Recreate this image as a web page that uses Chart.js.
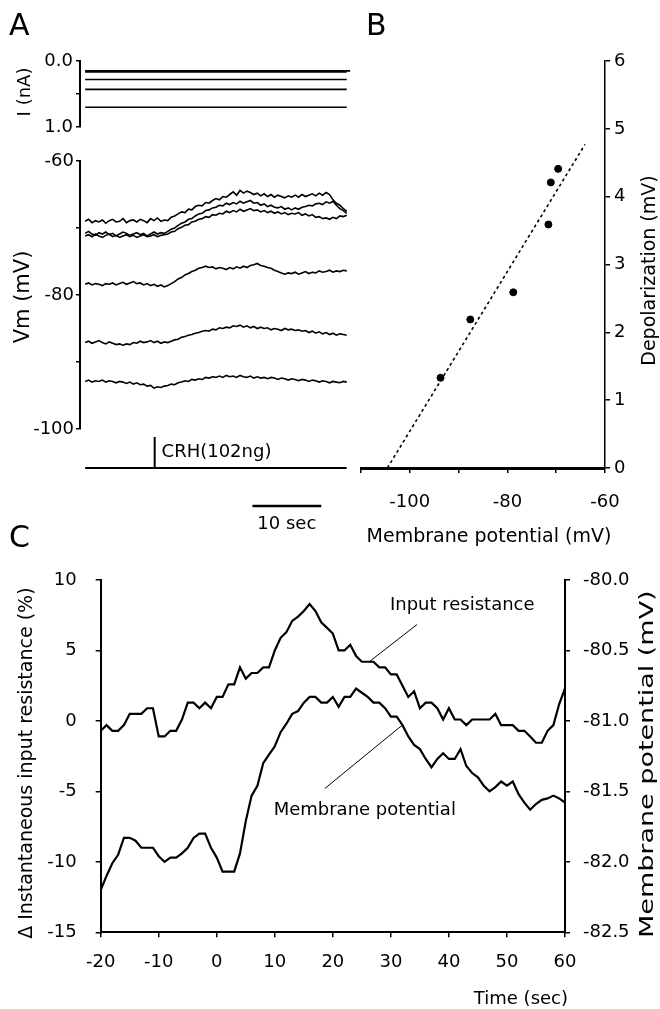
<!DOCTYPE html>
<html>
<head>
<meta charset="utf-8">
<script src="https://cdn.jsdelivr.net/npm/chart.js@4.4.0/dist/chart.umd.min.js"></script>
<style>
html, body { margin: 0; padding: 0; background: #fff; }
#page { position: relative; width: 660px; height: 1009px; overflow: hidden; }
#page canvas { position: absolute; left: 0; top: 0; }
</style>
</head>
<body>
<div id="page">
  <canvas id="curChart" width="660" height="1009"></canvas>
  <canvas id="vmChart" width="660" height="1009"></canvas>
  <canvas id="stimChart" width="660" height="1009"></canvas>
  <canvas id="depolChart" width="660" height="1009"></canvas>
  <canvas id="timeChart" width="660" height="1009"></canvas>
</div>
<script>
// ---- Panel A: holding currents (nA) and Vm traces (mV), one sample every 0.5 s from t = 0 ----
const traceStep = 0.5;
const traceEnd = 38;
const holdCurrents = [0.15, 0.165, 0.28, 0.43, 0.70];

const vmTraceA = [
  -69.0, -68.7, -69.2, -68.9, -69.1, -68.8, -69.3, -68.9, -68.7, -69.1,
  -69.0, -68.6, -69.2, -68.9, -68.8, -69.1, -68.7, -68.9, -69.2, -68.6,
  -68.9, -68.5, -69.0, -68.8, -68.9, -68.4, -68.2, -67.9, -67.6, -67.7,
  -67.2, -67.3, -66.8, -66.6, -66.7, -66.2, -66.3, -65.9, -65.6, -65.8,
  -65.3, -65.4, -65.0, -64.6, -65.1, -64.4, -64.8, -64.5, -64.7, -65.0,
  -64.8, -65.2, -64.9, -65.3, -65.0, -65.4, -65.1, -65.3, -65.5, -65.2,
  -65.4, -65.1, -65.4, -65.0, -65.3, -65.1, -64.9, -65.2, -64.8, -65.1,
  -64.7, -65.0, -65.8, -66.3, -66.6, -67.1, -67.5
];
const vmTraceB = [
  -70.8, -70.5, -70.9, -71.1, -70.7, -70.9, -70.6, -71.0, -70.8, -71.2,
  -70.9, -70.6, -70.8, -71.1, -70.9, -70.7, -71.0, -70.8, -71.2, -70.9,
  -70.6, -70.9, -70.7, -70.8, -70.5, -70.2, -70.0, -69.6, -69.3, -69.1,
  -68.7, -68.6, -68.2, -67.9, -67.8, -67.4, -67.3, -67.0, -66.9, -66.6,
  -66.7, -66.3, -66.5, -66.2, -66.4, -66.0, -66.3, -66.1, -65.9, -66.3,
  -66.2, -66.6, -66.4, -66.8, -66.6, -66.9, -67.0, -66.8, -67.2, -67.0,
  -67.3, -67.0, -67.2, -66.9, -66.8, -66.6, -66.7, -66.4, -66.3, -66.5,
  -66.1, -66.3, -66.0, -66.6, -67.1, -67.4, -67.8
];
const vmTraceC = [
  -71.2, -71.0, -71.3, -70.9, -71.2, -71.4, -71.1, -70.9, -71.3, -71.1,
  -71.4, -71.2, -71.0, -71.3, -71.1, -71.4, -71.2, -71.0, -71.3, -71.2,
  -71.0, -71.3, -71.1, -71.0, -70.9, -70.6, -70.5, -70.1, -69.9, -69.6,
  -69.5, -69.1, -69.0, -68.7, -68.6, -68.3, -68.4, -68.0, -68.1, -67.8,
  -67.9, -67.5, -67.7, -67.4, -67.6, -67.2, -67.5, -67.3, -67.1, -67.4,
  -67.3, -67.6, -67.4, -67.7, -67.5, -67.8, -67.6, -67.9, -67.7, -68.0,
  -67.8, -67.9, -67.7, -68.1, -67.9, -68.2, -68.0, -68.4, -68.3, -68.6,
  -68.5, -68.7, -68.4, -68.6, -68.2, -68.3, -68.1
];
const vmTraceD = [
  -78.4, -78.2, -78.5, -78.3, -78.4, -78.6, -78.3, -78.4, -78.2, -78.5,
  -78.3, -78.1, -78.4, -78.2, -78.0, -78.3, -78.2, -78.5, -78.3, -78.6,
  -78.4, -78.7, -78.5, -78.8, -78.6, -78.3, -78.0, -77.6, -77.4, -77.0,
  -76.8, -76.5, -76.3, -76.0, -75.9, -75.7, -75.9, -75.8, -76.1, -75.9,
  -76.0, -76.2, -75.9, -76.1, -75.8, -76.0, -75.7, -75.9, -75.6, -75.5,
  -75.3, -75.6, -75.7, -75.9, -76.0, -76.3, -76.5, -76.7, -76.9, -76.7,
  -76.8, -76.6, -76.9, -76.7, -76.5, -76.8, -76.6, -76.7, -76.4, -76.6,
  -76.5, -76.3, -76.6, -76.4, -76.5, -76.3, -76.4
];
const vmTraceE = [
  -87.1, -86.9, -87.2, -87.0, -86.8, -87.1, -87.3, -87.0, -87.2, -87.4,
  -87.3, -87.5, -87.3, -87.4, -87.1, -87.2, -86.9, -87.1, -87.0, -86.8,
  -87.1, -86.9, -87.2, -87.0, -87.1, -86.9, -86.7, -86.6, -86.3, -86.2,
  -86.0, -85.9, -85.7, -85.6, -85.4, -85.3, -85.4, -85.1, -85.2, -84.9,
  -85.0, -84.8, -84.9, -84.6, -84.7, -84.5, -84.8, -84.6, -84.9, -84.7,
  -85.0, -84.8, -85.0, -84.9, -85.2, -85.0, -85.1, -85.3, -85.0, -85.2,
  -85.1, -85.3, -85.2, -85.4, -85.3, -85.6, -85.4, -85.7, -85.5, -85.8,
  -85.6, -85.9, -85.7, -86.0, -85.8, -85.9, -86.0
];
const vmTraceF = [
  -92.9, -92.7, -93.0, -92.8, -92.9, -92.7, -93.0, -92.8, -92.9, -93.1,
  -92.9, -93.0, -93.2, -93.0, -93.3, -93.1, -93.4, -93.3, -93.6, -93.5,
  -93.9, -93.7, -93.8, -93.6, -93.5, -93.3, -93.4, -93.1, -93.0, -92.8,
  -92.9, -92.6, -92.7, -92.5, -92.6, -92.3, -92.4, -92.2, -92.3, -92.1,
  -92.3, -92.0, -92.2, -92.1, -92.3, -92.0, -92.2, -92.3, -92.1, -92.4,
  -92.2, -92.4, -92.3, -92.5, -92.3, -92.4, -92.6, -92.4, -92.5, -92.7,
  -92.5, -92.6, -92.8, -92.6, -92.7, -92.9, -92.7, -92.8, -93.0, -92.8,
  -92.9, -93.1, -92.9, -93.0, -93.1, -92.9, -93.0
];
const vmTraces = [vmTraceA, vmTraceB, vmTraceC, vmTraceD, vmTraceE, vmTraceF];

// CRH application marker and the 10 s scale bar
const crhTime = [0, 10.1, 10.1, 10.1, 38];
const crhSignal = [0, 0, 7.75, 0, 0];
const scaleBarTime = [24.3, 34.3];
const scaleBarLevel = -9.5;

// ---- Panel B: depolarization vs resting membrane potential ----
const restPotential = [-93.7, -87.6, -78.8, -71.6, -71.1, -69.6];
const depolarization = [1.33, 2.19, 2.59, 3.59, 4.21, 4.41];
const fitPotential = [-104.6, -64.1];
const fitDepolarization = [0, 4.77];

// ---- Panel C: one sample per second from -20 to 60 s ----
const inputResistance = [
  -0.7, -0.3, -0.7, -0.7, -0.3, 0.5, 0.5, 0.5, 0.9, 0.9,
  -1.1, -1.1, -0.7, -0.7, 0.1, 1.3, 1.3, 0.9, 1.3, 0.9,
  1.7, 1.7, 2.6, 2.6, 3.8, 3.0, 3.4, 3.4, 3.8, 3.8,
  5.0, 5.9, 6.3, 7.1, 7.4, 7.8, 8.3, 7.8, 7.0, 6.6,
  6.2, 5.0, 5.0, 5.4, 4.6, 4.2, 4.2, 4.2, 3.8, 3.8,
  3.3, 3.3, 2.5, 1.7, 2.1, 0.9, 1.3, 1.3, 0.9, 0.1,
  0.9, 0.1, 0.1, -0.3, 0.1, 0.1, 0.1, 0.1, 0.5, -0.3,
  -0.3, -0.3, -0.7, -0.7, -1.1, -1.55, -1.55, -0.7, -0.3, 1.2,
  2.3
];
const membranePotential = [
  -82.20, -82.10, -82.01, -81.95, -81.83, -81.83, -81.85, -81.90, -81.90, -81.90,
  -81.96, -82.00, -81.97, -81.97, -81.94, -81.90, -81.83, -81.80, -81.80, -81.90,
  -81.97, -82.07, -82.07, -82.07, -81.94, -81.71, -81.53, -81.46, -81.30, -81.24,
  -81.18, -81.08, -81.02, -80.95, -80.93, -80.87, -80.83, -80.83, -80.87, -80.87,
  -80.83, -80.90, -80.83, -80.83, -80.77, -80.80, -80.83, -80.87, -80.87, -80.91,
  -80.97, -80.97, -81.03, -81.11, -81.17, -81.20, -81.27, -81.33, -81.27, -81.23,
  -81.27, -81.27, -81.20, -81.32, -81.37, -81.40, -81.46, -81.50, -81.47, -81.43,
  -81.46, -81.43, -81.52, -81.58, -81.63, -81.59, -81.56, -81.55, -81.53, -81.55,
  -81.58
];
const timeStart = -20;

const black = '#000';
const fontFamily = '"DejaVu Sans", sans-serif';
Chart.defaults.font.family = fontFamily;
Chart.defaults.font.size = 18;
Chart.defaults.color = black;
Chart.defaults.animation = false;

// simple text drawer (titles, panel letters, annotations)
function makeTextPlugin(id, items) {
  return {
    id: id,
    afterDraw(chart) {
      const ctx = chart.ctx;
      items.forEach(it => {
        const p = it.at(chart);
        ctx.save();
        ctx.translate(p[0], p[1]);
        if (it.rot) ctx.rotate(it.rot);
        if (it.sx) ctx.scale(it.sx, 1);
        ctx.font = (it.size || 18) + 'px ' + fontFamily;
        ctx.fillStyle = black;
        ctx.textAlign = it.align || 'center';
        ctx.textBaseline = 'middle';
        ctx.fillText(it.text, 0, 0);
        ctx.restore();
      });
    }
  };
}

function axisLook(borderWidth, tickLength) {
  return {
    border: { display: true, color: black, width: borderWidth },
    grid: { display: true, drawOnChartArea: false, drawTicks: true, tickLength: tickLength, color: black, lineWidth: 1.5 }
  };
}

const noUi = { legend: { display: false }, tooltip: { enabled: false } };
const up = -Math.PI / 2;
const midY = c => (c.chartArea.top + c.chartArea.bottom) / 2;

// shared time axis of panel A
const aTimeMin = -0.75;
const aTimeMax = 39.2;
const aPad = { left: 0, right: 305 };

// ---- A: current ----
new Chart(document.getElementById('curChart'), {
  type: 'line',
  data: {
    datasets: holdCurrents.map((v, i) => ({
      data: [{ x: 0, y: v }, { x: i === 0 ? traceEnd + 0.5 : traceEnd, y: v }],
      borderColor: black, borderWidth: 1.6, pointRadius: 0
    }))
  },
  options: {
    responsive: false,
    layout: { padding: { top: 61, bottom: 1009 - 127, left: aPad.left, right: aPad.right } },
    plugins: noUi,
    scales: {
      x: { type: 'linear', display: false, min: aTimeMin, max: aTimeMax },
      y: Object.assign(axisLook(2, 4), {
        reverse: true, min: 0, max: 1,
        afterFit: s => { s.width = 80; },
        ticks: { stepSize: 0.5, padding: 3, callback: v => (v === 0.5 ? '' : v.toFixed(1)) }
      })
    }
  },
  plugins: [makeTextPlugin('curText', [
    { text: 'A', size: 30, align: 'left', at: () => [9, 27] },
    { text: 'I (nA)', size: 18, rot: up, at: c => [25, midY(c) - 2] }
  ])]
});

// ---- A: membrane potential traces ----
new Chart(document.getElementById('vmChart'), {
  type: 'line',
  data: {
    datasets: vmTraces.map(tr => ({
      data: tr.map((v, i) => ({ x: i * traceStep, y: v })),
      borderColor: black, borderWidth: 1.6, pointRadius: 0
    }))
  },
  options: {
    responsive: false,
    layout: { padding: { top: 161, bottom: 1009 - 429, left: aPad.left, right: aPad.right } },
    plugins: noUi,
    scales: {
      x: { type: 'linear', display: false, min: aTimeMin, max: aTimeMax },
      y: Object.assign(axisLook(2, 4), {
        min: -100, max: -60,
        afterFit: s => { s.width = 80; },
        ticks: { stepSize: 10, padding: 2, callback: v => (v % 20 === 0 ? v : '') }
      })
    }
  },
  plugins: [makeTextPlugin('vmText', [
    { text: 'Vm (mV)', size: 21, rot: up, at: c => [24, midY(c) + 2] }
  ])]
});

// ---- A: CRH marker and scale bar ----
new Chart(document.getElementById('stimChart'), {
  type: 'line',
  data: {
    datasets: [
      { data: crhTime.map((t, i) => ({ x: t, y: crhSignal[i] })), borderColor: black, borderWidth: 2, pointRadius: 0 },
      { data: scaleBarTime.map(t => ({ x: t, y: scaleBarLevel })), borderColor: black, borderWidth: 2.5, pointRadius: 0 }
    ]
  },
  options: {
    responsive: false,
    layout: { padding: { top: 430, bottom: 1009 - 510, left: 80, right: aPad.right } },
    plugins: noUi,
    scales: {
      x: { type: 'linear', display: false, min: aTimeMin, max: aTimeMax },
      y: { display: false, min: -10.5, max: 9.5 }
    }
  },
  plugins: [makeTextPlugin('stimText', [
    { text: 'CRH(102ng)', size: 18, align: 'left',
      at: c => [c.scales.x.getPixelForValue(11.1), c.scales.y.getPixelForValue(4.0)] },
    { text: '10 sec', size: 18,
      at: c => [c.scales.x.getPixelForValue((scaleBarTime[0] + scaleBarTime[1]) / 2), c.scales.y.getPixelForValue(-14)] }
  ])]
});

// ---- B: depolarization vs membrane potential ----
new Chart(document.getElementById('depolChart'), {
  type: 'scatter',
  data: {
    datasets: [
      { data: restPotential.map((v, i) => ({ x: v, y: depolarization[i] })),
        backgroundColor: black, borderColor: black, pointRadius: 3.5, showLine: false },
      { data: fitPotential.map((v, i) => ({ x: v, y: fitDepolarization[i] })),
        borderColor: black, borderWidth: 1.6, borderDash: [3, 3], pointRadius: 0, showLine: true }
    ]
  },
  options: {
    responsive: false,
    layout: { padding: { top: 61, bottom: 1009 - 468 - 82, left: 361, right: 0 } },
    plugins: noUi,
    scales: {
      x: Object.assign(axisLook(3, 5), {
        type: 'linear', min: -110, max: -60,
        afterFit: s => { s.height = 82; },
        ticks: { stepSize: 10, padding: 19, autoSkip: false, maxRotation: 0, callback: v => (v % 20 === 0 ? v : '') }
      }),
      y: Object.assign(axisLook(1.5, 5), {
        position: 'right', min: 0, max: 6,
        afterFit: s => { s.width = 55; },
        ticks: { stepSize: 1, padding: 4 }
      })
    }
  },
  plugins: [makeTextPlugin('depolText', [
    { text: 'B', size: 30, align: 'left', at: () => [366, 27] },
    { text: 'Depolarization (mV)', size: 19, rot: up, at: c => [650, midY(c) + 6] },
    { text: 'Membrane potential (mV)', size: 19,
      at: c => [(c.chartArea.left + c.chartArea.right) / 2 + 6, 537] }
  ])]
});

// ---- C: input resistance and membrane potential over time ----
const cPoints = arr => arr.map((v, i) => ({ x: timeStart + i, y: v }));
new Chart(document.getElementById('timeChart'), {
  type: 'line',
  data: {
    datasets: [
      { data: cPoints(inputResistance), yAxisID: 'y', borderColor: black, borderWidth: 2.2, pointRadius: 0 },
      { data: cPoints(membranePotential), yAxisID: 'y1', borderColor: black, borderWidth: 2.2, pointRadius: 0 },
      { data: [{ x: 34.5, y: 6.84 }, { x: 26.4, y: 4.24 }], yAxisID: 'y', borderColor: black, borderWidth: 1, pointRadius: 0 },
      { data: [{ x: 31.9, y: -0.32 }, { x: 18.6, y: -4.8 }], yAxisID: 'y', borderColor: black, borderWidth: 1, pointRadius: 0 }
    ]
  },
  options: {
    responsive: false,
    layout: { padding: { top: 580, bottom: 0, left: 0, right: 0 } },
    plugins: noUi,
    scales: {
      x: Object.assign(axisLook(2, 5), {
        type: 'linear', min: -20, max: 60,
        afterFit: s => { s.height = 76.7; },
        ticks: { stepSize: 10, padding: 14, maxRotation: 0 }
      }),
      y: Object.assign(axisLook(2, 5), {
        position: 'left', min: -15, max: 10,
        afterFit: s => { s.width = 100.7; },
        ticks: { stepSize: 5, padding: 19 }
      }),
      y1: Object.assign(axisLook(2, 5), {
        position: 'right', min: -82.5, max: -80,
        afterFit: s => { s.width = 95; },
        ticks: { stepSize: 0.5, padding: 13, callback: v => v.toFixed(1) }
      })
    }
  },
  plugins: [makeTextPlugin('timeText', [
    { text: 'C', size: 30, align: 'left', at: () => [9, 539] },
    { text: '\u0394 Instantaneous input resistance (%)', size: 19, rot: up, at: c => [27, midY(c) + 7] },
    { text: 'Membrane potential (mV)', size: 19, sx: 1.42, rot: up, at: c => [648, midY(c) + 8] },
    { text: 'Time (sec)', size: 18, align: 'right', at: c => [c.chartArea.right + 3, 999] },
    { text: 'Input resistance', size: 18,
      at: c => [c.scales.x.getPixelForValue(42.3), c.scales.y.getPixelForValue(8.2)] },
    { text: 'Membrane potential', size: 18,
      at: c => [c.scales.x.getPixelForValue(25.5), c.scales.y.getPixelForValue(-6.35)] }
  ])]
});
</script>
</body>
</html>
